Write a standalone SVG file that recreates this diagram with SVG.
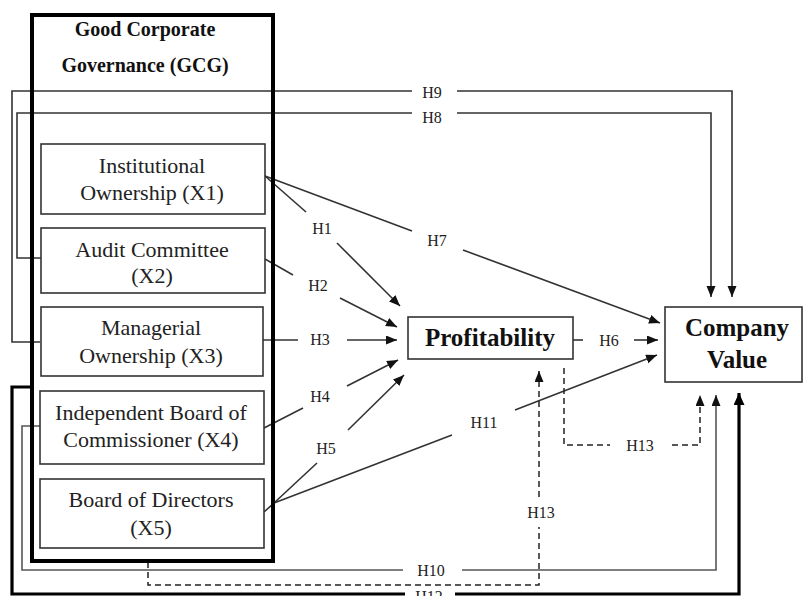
<svg xmlns="http://www.w3.org/2000/svg" width="803" height="596" viewBox="0 0 803 596">
<style>
.bg{fill:#fff}
.box{fill:#fff;stroke:#333;stroke-width:1.6}
.gcg{fill:none;stroke:#000;stroke-width:4}
.t{font-family:"Liberation Serif","Times New Roman",serif;font-size:22px;fill:#222;text-anchor:middle}
.tb{font-family:"Liberation Serif","Times New Roman",serif;font-weight:bold;fill:#111;text-anchor:middle}
.lbl{font-family:"Liberation Serif","Times New Roman",serif;font-size:16px;fill:#222;text-anchor:middle}
.ln{fill:none;stroke:#333;stroke-width:1.6}
.gr{fill:none;stroke:#555;stroke-width:1.6}
.dash{fill:none;stroke:#222;stroke-width:1.5;stroke-dasharray:6,4}
.thick{fill:none;stroke:#000;stroke-width:3.2}
</style>
<defs>
<marker id="ar" markerUnits="userSpaceOnUse" markerWidth="12" markerHeight="10" refX="11" refY="4.5" orient="auto">
<path d="M0,0 L11,4.5 L0,9 z" fill="#111"/>
</marker>
<marker id="arb" markerUnits="userSpaceOnUse" markerWidth="13" markerHeight="12" refX="12" refY="5.5" orient="auto">
<path d="M0,0 L12,5.5 L0,11 z" fill="#000"/>
</marker>
</defs>
<rect class="bg" x="0" y="0" width="803" height="596"/>

<g id="connectors">
<!-- H9 -->
<polyline class="ln" points="40,342 12,342 12,91 412,91"/>
<polyline class="ln" points="457,91 732,91 732,297" marker-end="url(#ar)"/>
<!-- H8 -->
<polyline class="ln" points="41,258 17,258 17,113 412,113"/>
<polyline class="ln" points="457,113 711,113 711,297" marker-end="url(#ar)"/>
<!-- H7 -->
<polyline class="ln" points="265,176 412,231"/>
<polyline class="ln" points="463,250 660,323" marker-end="url(#ar)"/>
<!-- H1 -->
<polyline class="ln" points="265,176 306,212"/>
<polyline class="ln" points="337,243 400,306" marker-end="url(#ar)"/>
<!-- H2 -->
<polyline class="ln" points="265,259 293,275"/>
<polyline class="ln" points="340,298 397,327" marker-end="url(#ar)"/>
<!-- H3 -->
<polyline class="ln" points="263,340 298,340"/>
<polyline class="ln" points="347,340 397,340" marker-end="url(#ar)"/>
<!-- H4 -->
<polyline class="ln" points="264,428 303,408"/>
<polyline class="ln" points="347,386 398,360" marker-end="url(#ar)"/>
<!-- H5 -->
<polyline class="ln" points="264,512 274,503 317,463"/>
<polyline class="ln" points="348,430 404,375" marker-end="url(#ar)"/>
<!-- H11 -->
<polyline class="ln" points="274,503 452,435"/>
<polyline class="ln" points="515,410 657,355" marker-end="url(#ar)"/>
<!-- H6 -->
<polyline class="ln" points="573,340 583,340"/>
<polyline class="ln" points="634,340 658,340" marker-end="url(#ar)"/>
<!-- H10 -->
<polyline class="gr" points="40,426 22,426 22,570 403,570"/>
<polyline class="gr" points="462,570 716,570 716,395" marker-end="url(#ar)"/>
<!-- H12 -->
<polyline class="thick" points="32,387 12,387 12,594 405,594"/>
<polyline class="thick" points="455,594 739,594 739,393" marker-end="url(#arb)"/>
<!-- H13 (GCG to Profitability) -->
<polyline class="dash" points="148,562 148,585 539,585 539,527"/>
<polyline class="dash" points="539,497 539,371" marker-end="url(#ar)"/>
<!-- H13 (Profitability to Company Value) -->
<polyline class="dash" points="564,368 564,445 610,445"/>
<polyline class="dash" points="672,445 700,445 700,395" marker-end="url(#ar)"/>
<!-- labels -->
<text class="lbl" x="432" y="98">H9</text>
<text class="lbl" x="432" y="123">H8</text>
<text class="lbl" x="437" y="246">H7</text>
<text class="lbl" x="322" y="234">H1</text>
<text class="lbl" x="318" y="291">H2</text>
<text class="lbl" x="320" y="345">H3</text>
<text class="lbl" x="320" y="402">H4</text>
<text class="lbl" x="326" y="454">H5</text>
<text class="lbl" x="609" y="346">H6</text>
<text class="lbl" x="484" y="428">H11</text>
<text class="lbl" x="541" y="518">H13</text>
<text class="lbl" x="640" y="451">H13</text>
<text class="lbl" x="431" y="576">H10</text>
<text class="lbl" x="429" y="602">H12</text>
</g>

<g id="gcg">
<rect class="gcg" x="32" y="15" width="241" height="546"/>
<text class="tb" x="145" y="36" font-size="20">Good Corporate</text>
<text class="tb" x="145" y="72" font-size="20">Governance (GCG)</text>
</g>

<g id="x1">
<rect class="box" x="41" y="144" width="224" height="70"/>
<text class="t" x="152" y="173">Institutional</text>
<text class="t" x="152" y="200">Ownership (X1)</text>
</g>
<g id="x2">
<rect class="box" x="41" y="228" width="224" height="65"/>
<text class="t" x="152" y="257">Audit Committee</text>
<text class="t" x="152" y="283">(X2)</text>
</g>
<g id="x3">
<rect class="box" x="41" y="307" width="222" height="69"/>
<text class="t" x="151" y="335">Managerial</text>
<text class="t" x="151" y="363">Ownership (X3)</text>
</g>
<g id="x4">
<rect class="box" x="40" y="391" width="224" height="73"/>
<text class="t" x="151" y="420">Independent Board of</text>
<text class="t" x="151" y="447">Commissioner (X4)</text>
</g>
<g id="x5">
<rect class="box" x="40" y="479" width="224" height="69"/>
<text class="t" x="151" y="507">Board of Directors</text>
<text class="t" x="151" y="535">(X5)</text>
</g>
<g id="profitability">
<rect class="box" x="408" y="317" width="165" height="42"/>
<text class="tb" x="490" y="346" font-size="25">Profitability</text>
</g>
<g id="company-value">
<rect class="box" x="665" y="307" width="137" height="75"/>
<text class="tb" x="737" y="336" font-size="25">Company</text>
<text class="tb" x="737" y="368" font-size="25">Value</text>
</g>
</svg>
